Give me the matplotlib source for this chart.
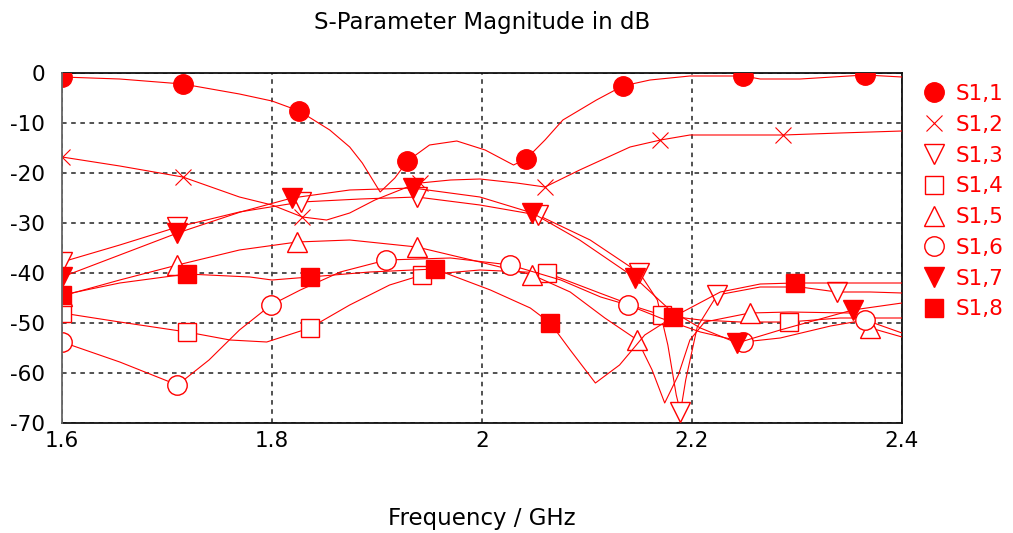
import matplotlib
matplotlib.use('Agg')
import matplotlib.pyplot as plt
from matplotlib.lines import Line2D

# S-parameter traces (frequency in GHz, magnitude in dB), markers at given indices
freq_s11 = [1.6, 1.655, 1.715, 1.769, 1.8, 1.826, 1.855, 1.874, 1.886, 1.903, 1.917, 1.929, 1.950, 1.976,
            2.003, 2.030, 2.042, 2.060, 2.077, 2.109, 2.134, 2.160, 2.198, 2.249, 2.265, 2.303, 2.365, 2.4]
db_s11 = [-0.8, -1.2, -2.2, -4.2, -5.6, -7.6, -11.4, -14.8, -18.0, -23.8, -21.0, -17.6, -14.4, -13.6,
          -15.4, -18.4, -17.2, -13.4, -9.4, -5.4, -2.6, -1.4, -0.6, -0.6, -1.2, -1.2, -0.4, -0.8]
mk_s11 = [0, 2, 5, 11, 16, 20, 23, 26]

freq_s12 = [1.6, 1.655, 1.715, 1.769, 1.8, 1.829, 1.852, 1.874, 1.898, 1.929, 1.941, 1.970, 1.998,
            2.033, 2.060, 2.093, 2.141, 2.170, 2.198, 2.287, 2.341, 2.4]
db_s12 = [-16.8, -18.6, -20.8, -24.8, -26.4, -28.8, -29.4, -28.0, -25.4, -22.8, -22.0, -21.4, -21.2,
          -22.0, -22.8, -19.4, -14.8, -13.4, -12.4, -12.4, -12.0, -11.6]
mk_s12 = [0, 2, 5, 10, 14, 17, 19]

freq_s13 = [1.6, 1.655, 1.710, 1.769, 1.828, 1.884, 1.938, 1.998, 2.053, 2.103, 2.150, 2.167, 2.177,
            2.185, 2.189, 2.194, 2.205, 2.224, 2.265, 2.303, 2.338, 2.370, 2.4]
db_s13 = [-37.8, -34.4, -30.8, -27.8, -25.8, -25.2, -24.8, -26.4, -28.4, -33.4, -40.0, -45.4, -54.4,
          -64.4, -67.8, -61.4, -50.8, -44.4, -42.8, -42.8, -43.8, -43.8, -44.0]
mk_s13 = [0, 2, 4, 6, 8, 10, 14, 17, 20]

freq_s14 = [1.6, 1.655, 1.719, 1.760, 1.795, 1.836, 1.874, 1.912, 1.943, 1.998, 2.062, 2.112, 2.150,
            2.171, 2.208, 2.246, 2.292, 2.341, 2.4]
db_s14 = [-48.0, -49.8, -51.8, -53.4, -53.8, -51.0, -46.4, -42.4, -40.4, -39.4, -40.0, -44.0, -47.0,
          -48.4, -49.4, -49.8, -49.8, -49.0, -49.0]
mk_s14 = [0, 2, 5, 8, 10, 13, 16]

freq_s15 = [1.6, 1.655, 1.710, 1.769, 1.824, 1.874, 1.938, 1.998, 2.048, 2.084, 2.117, 2.148, 2.162,
            2.174, 2.187, 2.198, 2.212, 2.255, 2.293, 2.350, 2.370, 2.4]
db_s15 = [-44.6, -41.4, -38.4, -35.4, -33.8, -33.4, -34.8, -37.8, -40.4, -43.8, -49.0, -53.4, -59.4,
          -66.0, -60.4, -53.4, -49.8, -48.0, -47.8, -48.0, -51.0, -52.8]
mk_s15 = [0, 2, 4, 6, 8, 11, 17, 20]

freq_s16 = [1.6, 1.655, 1.710, 1.740, 1.769, 1.799, 1.827, 1.865, 1.909, 1.970, 2.027, 2.075, 2.113,
            2.139, 2.170, 2.208, 2.249, 2.284, 2.332, 2.365, 2.4]
db_s16 = [-53.8, -57.8, -62.4, -57.4, -51.4, -46.4, -43.4, -39.8, -37.4, -37.0, -38.4, -41.4, -44.8,
          -46.4, -49.0, -51.8, -53.8, -53.0, -50.6, -49.4, -52.0]
mk_s16 = [0, 2, 5, 8, 10, 13, 16, 19]

freq_s17 = [1.6, 1.655, 1.710, 1.770, 1.819, 1.874, 1.934, 1.998, 2.048, 2.093, 2.146, 2.179, 2.208,
            2.243, 2.284, 2.353, 2.4]
db_s17 = [-40.8, -36.4, -32.0, -27.8, -25.0, -23.4, -23.0, -24.8, -28.0, -33.4, -41.0, -47.4, -51.0,
          -54.0, -51.4, -47.4, -46.0]
mk_s17 = [0, 2, 4, 6, 8, 10, 13, 15]

freq_s18 = [1.6, 1.655, 1.719, 1.779, 1.800, 1.836, 1.893, 1.955, 2.008, 2.046, 2.065, 2.084, 2.108,
            2.131, 2.155, 2.182, 2.227, 2.265, 2.298, 2.341, 2.4]
db_s18 = [-44.4, -42.0, -40.2, -40.8, -41.4, -40.8, -39.8, -39.2, -43.4, -47.0, -50.0, -55.4, -62.0,
          -58.4, -52.4, -48.8, -43.8, -42.2, -42.0, -42.0, -42.0]
mk_s18 = [0, 2, 5, 7, 10, 15, 18]

labels = ['S1,1', 'S1,2', 'S1,3', 'S1,4', 'S1,5', 'S1,6', 'S1,7', 'S1,8']
x_ticks = [1.6, 1.8, 2.0, 2.2, 2.4]
x_tick_labels = ['1.6', '1.8', '2', '2.2', '2.4']
y_ticks = [0, -10, -20, -30, -40, -50, -60, -70]

series = [
    (freq_s11, db_s11, mk_s11),
    (freq_s12, db_s12, mk_s12),
    (freq_s13, db_s13, mk_s13),
    (freq_s14, db_s14, mk_s14),
    (freq_s15, db_s15, mk_s15),
    (freq_s16, db_s16, mk_s16),
    (freq_s17, db_s17, mk_s17),
    (freq_s18, db_s18, mk_s18),
]

red = '#ff0000'
styles = [
    dict(marker='o', ms=14, mfc=red, mec=red, mew=1.0),
    dict(marker='x', ms=12, mfc='none', mec=red, mew=0.8),
    dict(marker='v', ms=14, mfc='white', mec=red, mew=1.0),
    dict(marker='s', ms=12.5, mfc='white', mec=red, mew=1.0),
    dict(marker='^', ms=14, mfc='white', mec=red, mew=1.0),
    dict(marker='o', ms=14, mfc='white', mec=red, mew=1.0),
    dict(marker='v', ms=14, mfc=red, mec=red, mew=1.0),
    dict(marker='s', ms=12.5, mfc=red, mec=red, mew=1.0),
]

plt.rcParams['font.family'] = ['DejaVu Sans']
plt.rcParams['axes.unicode_minus'] = False
fig = plt.figure(figsize=(10.13, 5.33), dpi=100)
ax = fig.add_axes([62 / 1013, 1 - 423 / 533, 840 / 1013, 350 / 533])

for i, (f, d, mk) in enumerate(series):
    ax.plot(f, d, color=red, lw=0.8, markevery=mk, zorder=3 + i, **styles[i])

ax.set_xlim(1.6, 2.4)
ax.set_ylim(-70, 0)
ax.set_xticks(x_ticks)
ax.set_xticklabels(x_tick_labels)
ax.set_yticks(y_ticks)
ax.grid(True, color='#222222', linestyle=(0, (3, 3)), lw=1.1)
ax.tick_params(length=0, labelsize=15.5)
ax.tick_params(axis='y', pad=12)
ax.tick_params(axis='x', pad=6)
for side in ['top', 'bottom', 'right']:
    ax.spines[side].set_color('#111111')
    ax.spines[side].set_linewidth(1.3)
ax.spines['left'].set_color('#666666')
ax.spines['left'].set_linewidth(1.3)
ax.spines['left'].set_zorder(20)

ax.set_title('S-Parameter Magnitude in dB', fontsize=16.5, pad=32)
ax.set_xlabel('Frequency / GHz', fontsize=16.5, labelpad=40)

handles = [Line2D([], [], linestyle='none', **styles[i]) for i in range(8)]
fig.legend(handles, labels, loc='upper left', bbox_to_anchor=(923 / 1013, 1 - 84 / 533),
           frameon=False, fontsize=15.5, labelcolor=red, handlelength=1.0,
           handletextpad=0.5, labelspacing=0.5, borderpad=0, borderaxespad=0)

fig.savefig('out.png', dpi=100)
